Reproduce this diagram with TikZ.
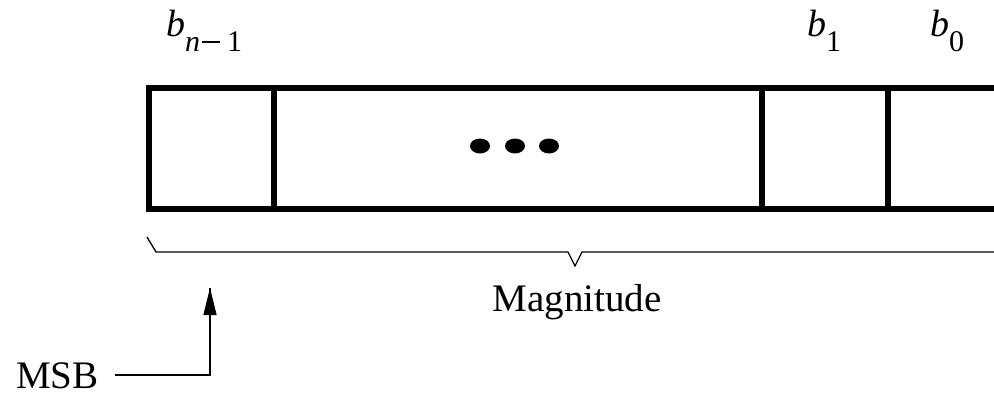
\documentclass[tikz,border=0pt]{standalone}
\usepackage{fontspec}
\setmainfont{Liberation Serif}
\usetikzlibrary{arrows.meta,calc}
\tikzset{
  cell/.style={draw, line width=6pt, inner sep=0pt, minimum height=120.5pt, anchor=north west},
  lbl/.style={inner sep=0pt, font=\fontsize{39}{45}\selectfont},
  bitl/.style={inner sep=0pt, font=\fontsize{38}{44}\selectfont},
  thin line/.style={line width=1.3pt},
}
\newcommand{\bitlbl}[1]{\textit{b}\raisebox{-15pt}{\fontsize{30}{34}\selectfont #1}}
\newcommand{\subminus}{\hspace{2pt}\raisebox{9pt}{\rule{18pt}{1.7pt}}\hspace{7pt}}
\begin{document}
\begin{tikzpicture}[x=1pt,y=-1pt]
\useasboundingbox (0,0) rectangle (994,396);
\clip (0,0) rectangle (994,396);
% cells
\node[cell, minimum width=125pt] (c1) at (145.5,85.5) {};
\node[cell, minimum width=488.5pt] (c2) at (270.5,85.5) {};
\node[cell, minimum width=125.5pt] (c3) at (759,85.5) {};
\node[cell, minimum width=140pt] (c4) at (884.5,85.5) {};
% dots
\fill (480,146) ellipse [x radius=10pt, y radius=7.5pt];
\fill (515,146) ellipse [x radius=10pt, y radius=7.5pt];
\fill (549,146) ellipse [x radius=10pt, y radius=7.5pt];
% labels
\node[bitl, anchor=base west] (bn) at (166,37) {\bitlbl{\textit{n}\subminus 1}};
\node[bitl, anchor=base west] (b1) at (807,37) {\bitlbl{1}};
\node[bitl, anchor=base west] (b0) at (930,37) {\bitlbl{0}};
% brace
\draw[thin line, line join=miter] (147,237) -- (156,252) -- (568,252) -- (575,266) -- (582,252) -- (1000,252);
\node[lbl, anchor=base] (mag) at (577,311) {Magnitude};
% MSB
\node[lbl, anchor=base west] (msb) at (16,388) {MSB};
\coordinate (corner) at (210,375);
\coordinate (tip) at (210,288);
\draw[thin line] (115,375) -- (corner) -- (tip);
\draw[thin line, -{Triangle[length=27pt,width=13pt]}] (corner) -- (tip);
\end{tikzpicture}
\end{document}
